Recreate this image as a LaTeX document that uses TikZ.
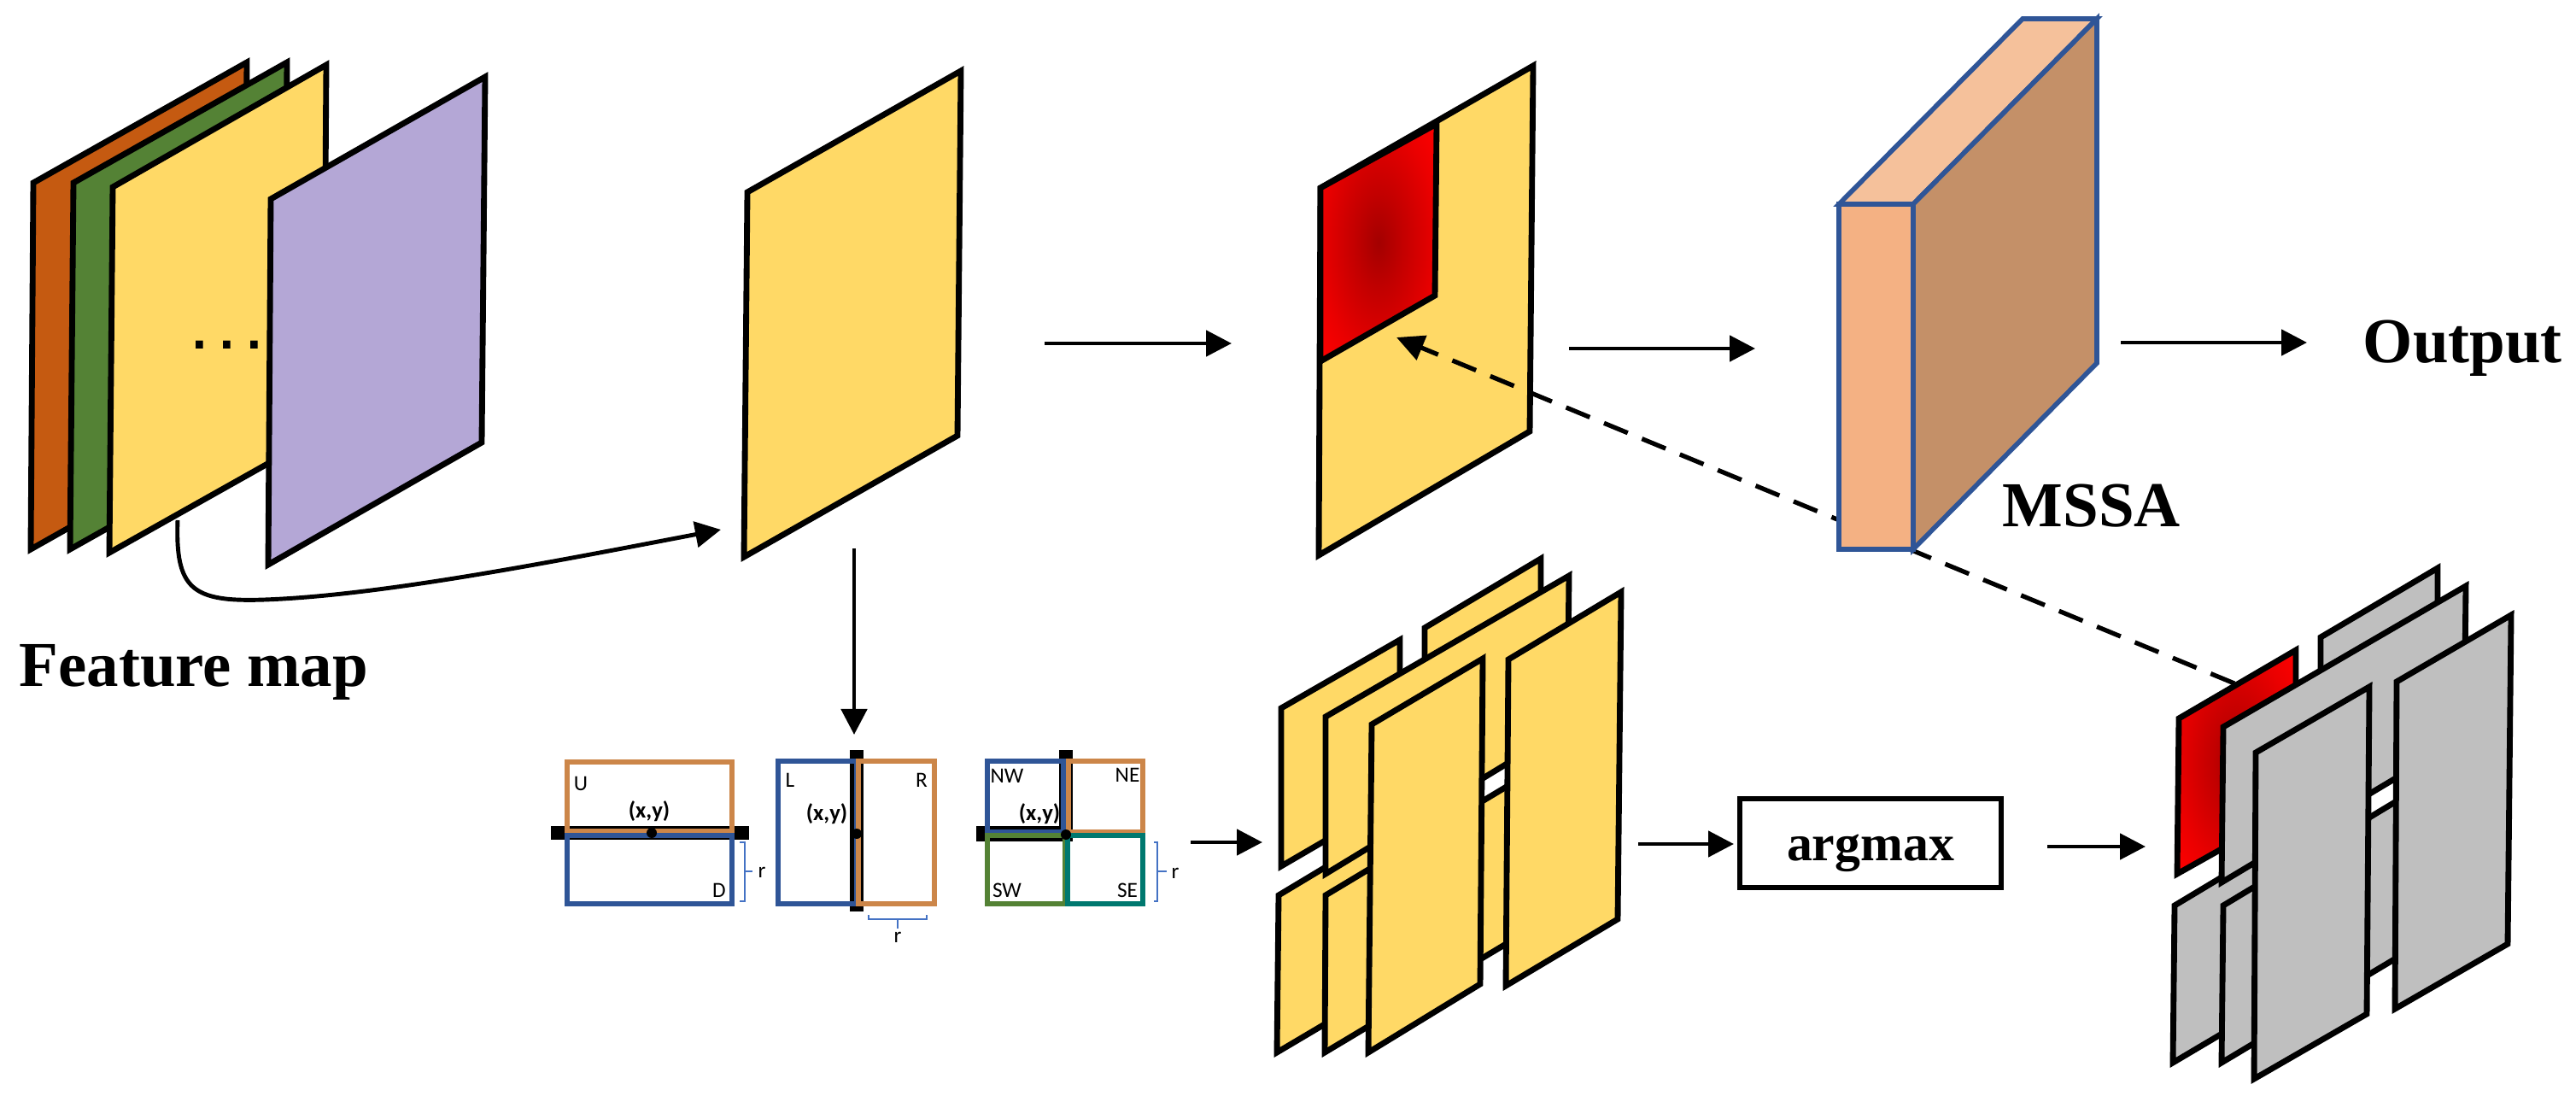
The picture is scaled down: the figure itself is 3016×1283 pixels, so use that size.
\documentclass[tikz,border=0pt]{standalone}
\usepackage{fontspec}
\setmainfont{Liberation Serif}
\newfontfamily\smallfont{Carlito}
\newfontfamily\dotfont{DejaVu Sans}
\usetikzlibrary{arrows.meta}
\definecolor{cOrange}{HTML}{C55A11}
\definecolor{cGreen}{HTML}{548235}
\definecolor{cYellow}{HTML}{FFD966}
\definecolor{cPurple}{HTML}{B4A7D6}
\definecolor{cGray}{HTML}{BFBFBF}
\definecolor{cFront}{HTML}{F4B183}
\definecolor{cTop}{HTML}{F5C19B}
\definecolor{cSide}{HTML}{C49068}
\definecolor{cBlue}{HTML}{2F5597}
\definecolor{cRectO}{HTML}{CC8649}
\definecolor{cTeal}{HTML}{00786F}
\definecolor{cBrace}{HTML}{4472C4}
\pgfdeclareradialshading{redglow}{\pgfpointorigin}{rgb(0bp)=(.64,0,0); rgb(10bp)=(.76,0,0); rgb(25bp)=(.92,0,0); rgb(35bp)=(1,0,0); rgb(100bp)=(1,0,0)}
\tikzset{
  x=0.01cm,y=-0.01cm,
  sheet/.style={draw=black,line width=1.95pt,line join=miter},
  glow/.style={sheet,shading=redglow},
  blk/.style={draw=cBlue,line width=1.6pt,line join=miter},
  conn/.style={line width=1.4pt,-{Triangle[length=0.3cm,width=0.3cm]}},
  dashconn/.style={line width=1.5pt,dash pattern=on 0.3cm off 0.18cm,-{Triangle[length=0.32cm,width=0.3cm]}},
  big/.style={font=\fontsize{21.3}{25}\selectfont\bfseries,inner sep=0pt},
  tiny/.style={font=\smallfont\fontsize{7.2}{8}\selectfont,inner sep=0pt},
  tinyb/.style={font=\smallfont\bfseries\fontsize{7.6}{8}\selectfont,inner sep=0pt},
  rectline/.style={line width=1.8pt,line join=miter},
  brace/.style={draw=cBrace,line width=0.6pt},
}
\newcommand{\sheet}[6][]{\draw[sheet,fill=#2,#1] #3 -- #4 -- #5 -- #6 -- cycle;}
\begin{document}
\begin{tikzpicture}
\useasboundingbox (0,0) rectangle (3016,1283);
% --- feature map stack
\sheet{cOrange}{(39,214)}{(289,73)}{(286,502)}{(36,643)}
\sheet{cGreen}{(86,214)}{(336,73)}{(333,502)}{(82,643)}
\sheet{cYellow}{(132,219)}{(382,76)}{(379,506)}{(128,647)}
\node[anchor=base,inner sep=0pt,font=\dotfont\bfseries\fontsize{14}{16}\selectfont] (dots) at (266,409) {.\hspace{3.8pt}.\hspace{3.8pt}.};
\sheet{cPurple}{(317,233)}{(568,90)}{(564,518)}{(314,661)}
\node[big,anchor=base west] (fm) at (22,804) {Feature map};
% --- selected map
\sheet{cYellow}{(875,225)}{(1125,83)}{(1121,510)}{(871,652)}
% --- map with attention patch
\sheet{cYellow}{(1546,220)}{(1795,77)}{(1791,505)}{(1544,650)}
\draw[glow] (1546,220) -- (1682,145) -- (1680,346) -- (1546,423) -- cycle;
% --- connectors
\coordinate (c1s) at (208,609);
\coordinate (c1e) at (844,620);
\draw[conn] (c1s) .. controls (205,690) and (225,705) .. (310,702) .. controls (450,697) and (660,655) .. (c1e);
\coordinate (a1s) at (1223,402); \coordinate (a1e) at (1442,402);
\draw[conn] (a1s) -- (a1e);
\coordinate (a2s) at (1000,642); \coordinate (a2e) at (1000,860);
\draw[conn] (a2s) -- (a2e);
\coordinate (a3s) at (1837,408); \coordinate (a3e) at (2055,408);
\draw[conn] (a3s) -- (a3e);
\coordinate (a4s) at (2483,401); \coordinate (a4e) at (2701,401);
\draw[conn] (a4s) -- (a4e);
\coordinate (ds) at (2616,800); \coordinate (de) at (1635,395);
\draw[dashconn] (ds) -- (de);
% --- MSSA block
\draw[blk,fill=cTop] (2153,239) -- (2368,22) -- (2455,22) -- (2240,239) -- cycle;
\draw[blk,fill=cSide] (2240,239) -- (2455,22) -- (2455,425) -- (2240,643) -- cycle;
\draw[blk,fill=cFront] (2153,239) rectangle (2240,643);
\node[big,anchor=base west] (mssa) at (2344,617) {MSSA};
\node[big,anchor=base west] (out) at (2766,425) {Output};
% --- split diagram 1
\fill[black] (645,967) rectangle (877,983);
\draw[rectline,draw=cRectO] (664,892) rectangle (857,973);
\draw[rectline,draw=cBlue] (664,978) rectangle (857,1058);
\fill[black] (763,975) circle (6);
\node[tinyb] (xy1) at (760,950) {(x,y)};
\node[tiny] (lU) at (680,917) {U};
\node[tiny] (lD) at (842,1042) {D};
\draw[brace] (866,986) -- (872,986) -- (872,1055) -- (866,1055) (872,1020) -- (881,1020);
\node[tiny] (r1) at (892,1021) {r};
% --- split diagram 2
\fill[black] (995,878) rectangle (1011,1067);
\draw[rectline,draw=cBlue] (911,891) rectangle (1003,1058);
\draw[rectline,draw=cRectO] (1005,891) rectangle (1094,1058);
\fill[black] (1003,976) circle (6);
\node[tinyb] (xy2) at (968,953) {(x,y)};
\node[tiny] (lL) at (925,913) {L};
\node[tiny] (lR) at (1079,913) {R};
\draw[brace] (1017,1071) -- (1017,1076) -- (1085,1076) -- (1085,1071) (1051,1076) -- (1051,1087);
\node[tiny] (r2) at (1051,1097) {r};
% --- split diagram 3
\fill[black] (1143,967) rectangle (1256,985);
\fill[black] (1240,878) rectangle (1256,985);
\draw[rectline,draw=cBlue] (1156,891) rectangle (1245,974);
\draw[rectline,draw=cRectO] (1251,891) rectangle (1338,974);
\draw[rectline,draw=cGreen] (1156,978) rectangle (1247,1058);
\draw[rectline,draw=cTeal] (1250,978) rectangle (1338,1058);
\fill[black] (1248,977) circle (6);
\node[tinyb] (xy3) at (1217,953) {(x,y)};
\node[tiny] (lNW) at (1179,908) {NW};
\node[tiny] (lNE) at (1320,907) {NE};
\node[tiny] (lSW) at (1179,1042) {SW};
\node[tiny] (lSE) at (1320,1042) {SE};
\draw[brace] (1351,986) -- (1355,986) -- (1355,1055) -- (1351,1055) (1355,1020) -- (1366,1020);
\node[tiny] (r3) at (1376,1022) {r};
\coordinate (a5s) at (1394,986); \coordinate (a5e) at (1478,986);
\draw[conn] (a5s) -- (a5e);
% --- yellow stack
\sheet{cYellow}{(1668,735)}{(1804,654)}{(1804,838)}{(1668,920)}
\sheet{cYellow}{(1500,829)}{(1639,749)}{(1639,933)}{(1500,1014)}
\sheet{cYellow}{(1497,1048)}{(1637,964)}{(1637,1148)}{(1495,1232)}
\sheet{cYellow}{(1552,1048)}{(1837,877)}{(1835,1062)}{(1551,1232)}
\sheet{cYellow}{(1552,839)}{(1837,674)}{(1835,851)}{(1552,1023)}
\sheet{cYellow}{(1606,848)}{(1736,771)}{(1733,1152)}{(1602,1232)}
\sheet{cYellow}{(1766,772)}{(1898,693)}{(1894,1076)}{(1763,1154)}
% --- argmax
\node[draw=black,line width=1.9pt,fill=white,minimum width=3.06cm,minimum height=1.04cm,inner sep=0pt,outer sep=0pt] (argmax) at (2190,987) {};
\node[anchor=base,inner sep=0pt,font=\fontsize{17}{20}\selectfont\bfseries] (argtext) at (2190,1007) {argmax};
\coordinate (a6s) at (1918,988); \coordinate (a6e) at (2030,988);
\draw[conn] (a6s) -- (a6e);
\coordinate (a7s) at (2397,991); \coordinate (a7e) at (2512,991);
\draw[conn] (a7s) -- (a7e);
% --- gray stack
\sheet{cGray}{(2717,746)}{(2854,665)}{(2854,849)}{(2717,931)}
\draw[glow] (2551,841) -- (2688,761) -- (2688,945) -- (2549,1023) -- cycle;
\sheet{cGray}{(2546,1060)}{(2686,976)}{(2686,1160)}{(2544,1244)}
\sheet{cGray}{(2603,1060)}{(2887,889)}{(2885,1074)}{(2601,1244)}
\sheet{cGray}{(2603,851)}{(2887,686)}{(2885,863)}{(2601,1033)}
\sheet{cGray}{(2641,881)}{(2774,804)}{(2771,1187)}{(2639,1263)}
\sheet{cGray}{(2806,798)}{(2940,720)}{(2936,1105)}{(2804,1181)}
\end{tikzpicture}
\end{document}
